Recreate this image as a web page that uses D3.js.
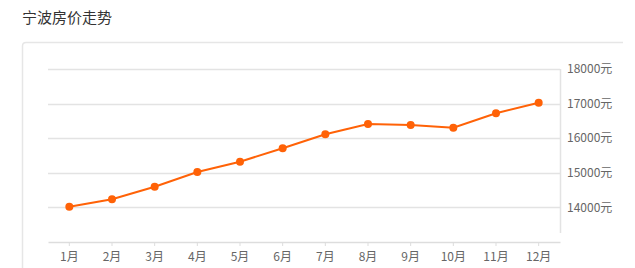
<!DOCTYPE html>
<html><head><meta charset="utf-8">
<script src="https://cdn.jsdelivr.net/npm/d3@7"></script>
<style>
html,body{margin:0;padding:0;background:#fff;}
svg{display:block;font-family:"Noto Sans CJK SC","Noto Sans",sans-serif;}
</style></head>
<body><svg id="c" width="635" height="268"></svg>
<script>
const title = "宁波房价走势";
const months = ["1月","2月","3月","4月","5月","6月","7月","8月","9月","10月","11月","12月"];
const prices = [14020,14234,14598,15023,15321,15708,16113,16410,16382,16303,16720,17026];
const yTicks = [14000,15000,16000,17000,18000];
const unit = "元";

const svg = d3.select("#c");
// title
svg.append("text").attr("x",22).attr("y",23).attr("font-size",15).attr("fill","#333").text(title);
// card
svg.append("path").attr("d","M22.5,290 L22.5,46 Q22.5,42.5 26,42.5 L623,42.5")
  .attr("fill","none").attr("stroke","#e6e6e6").attr("stroke-width",1.5);

const x = d3.scaleBand().domain(months).range([48,560]);
const y = d3.scaleLinear().domain([13000,18000]).range([242,69]);

// grid
svg.append("g").selectAll("line").data(yTicks).join("line")
  .attr("x1",48).attr("x2",560).attr("y1",d=>Math.round(y(d))+0.5).attr("y2",d=>Math.round(y(d))+0.5)
  .attr("stroke","#e3e3e3").attr("stroke-width",1.5);
// right vertical line
svg.append("line").attr("x1",560.5).attr("x2",560.5).attr("y1",y(18000)).attr("y2",233)
  .attr("stroke","#e3e3e3").attr("stroke-width",1.5);

// y labels
svg.append("g").selectAll("text").data(yTicks).join("text")
  .attr("x",567).attr("y",d=>y(d)).attr("dy","0.35em").attr("font-size",12).attr("fill","#666")
  .text(d=>d+unit);

// x axis
const xAxis = d3.axisBottom(x).tickSize(4).tickSizeOuter(0).tickPadding(6);
const gx = svg.append("g").attr("transform","translate(0,242)").call(xAxis);
gx.select(".domain").attr("stroke","#ddd").attr("stroke-width",1.5);
gx.selectAll(".tick line").attr("stroke","#ddd");
gx.selectAll(".tick text").attr("font-size",12).attr("fill","#666").attr("font-family","\"Noto Sans CJK SC\",sans-serif");

// line
const line = d3.line().x((d,i)=>x(months[i])+x.bandwidth()/2).y(d=>y(d));
svg.append("path").datum(prices).attr("d",line).attr("fill","none").attr("stroke","#ff6207").attr("stroke-width",2);
svg.append("g").selectAll("circle").data(prices).join("circle")
  .attr("cx",(d,i)=>x(months[i])+x.bandwidth()/2).attr("cy",d=>y(d)).attr("r",4).attr("fill","#ff6207");
</script></body></html>
